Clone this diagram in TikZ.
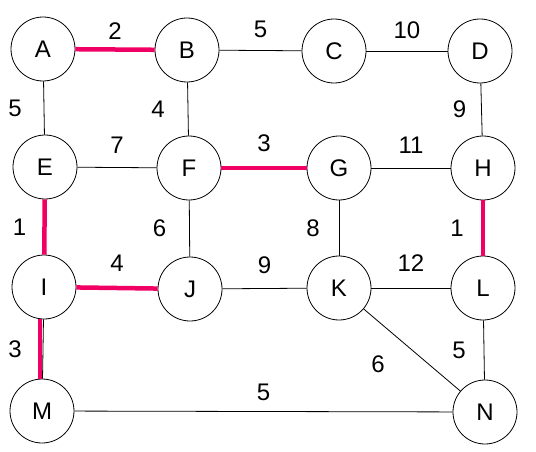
\documentclass[tikz,border=0pt]{standalone}
\usepackage{fontspec}
\setmainfont{Liberation Sans}
\usepackage{xcolor}
\usetikzlibrary{positioning}
\definecolor{pathred}{RGB}{240,0,100}

\begin{document}
\begin{tikzpicture}[
  x=1pt, y=-1pt,
  vertex/.style={circle, draw, line width=0.8pt, minimum size=64pt,
    inner sep=0pt, font=\fontsize{24}{28}\selectfont},
  wt/.style={font=\fontsize{24}{28}\selectfont, inner sep=0pt},
  edge/.style={line width=0.8pt},
  chosen/.style={line width=4.5pt, pathred}
]
  \useasboundingbox (0,0) rectangle (536,452);

  % --- Vertices ---
  \node[vertex] (A) at (43,49)   {A};
  \node[vertex] (B) at (187,50)  {B};
  \node[vertex] (C) at (334,51)  {C};
  \node[vertex] (D) at (480,51)  {D};
  \node[vertex] (E) at (45,167)  {E};
  \node[vertex] (F) at (189,168) {F};
  \node[vertex] (G) at (339,168) {G};
  \node[vertex] (H) at (483,168) {H};
  \node[vertex] (I) at (44,287)  {I};
  \node[vertex] (J) at (190,289) {J};
  \node[vertex] (K) at (339,288) {K};
  \node[vertex] (L) at (483,288) {L};
  \node[vertex] (M) at (42,411)  {M};
  \node[vertex] (N) at (485,412) {N};

  % --- Plain edges ---
  \draw[edge] (B) -- node[wt, above=12pt] {5}  (C);
  \draw[edge] (C) -- node[wt, above=12pt] {10} (D);
  \draw[edge] (A) -- node[wt, left=22pt]  {5}  (E);
  \draw[edge] (B) -- node[wt, left=23pt]  {4}  (F);
  \draw[edge] (D) -- node[wt, left=15pt]  {9}  (H);
  \draw[edge] (E) -- node[wt, above=14pt] {7}  (F);
  \draw[edge] (G) -- node[wt, above=14pt] {11} (H);
  \draw[edge] (F) -- node[wt, left=23pt]  {6}  (J);
  \draw[edge] (G) -- node[wt, left=19pt]  {8}  (K);
  \draw[edge] (J) -- node[wt, above=14pt] {9}  (K);
  \draw[edge] (K) -- node[wt, above=16pt] {12} (L);
  \draw[edge] (K) -- node[wt, xshift=-34pt, yshift=-14pt] {6} (N);
  \draw[edge] (L) -- node[wt, left=18pt]  {5}  (N);
  \draw[edge] (M) -- node[wt, above=10pt] {5}  (N);
  \draw[edge] (I) -- (M);

  % --- Highlighted edges ---
  \draw[chosen] (A) -- node[wt, above=8pt, black]  {2} (B);
  \draw[chosen] (F) -- node[wt, above=14pt, black] {3} (G);
  \draw[chosen] (H) -- node[wt, left=17pt, black]  {1} (L);
  \draw[chosen] (E) -- node[wt, left=16pt, black]  {1} (I);
  \draw[chosen] (I) -- node[wt, above=14pt, black] {4} (J);
  \draw[chosen] ([xshift=-4pt]I.south) -- node[wt, left=16pt, black] {3}
    ([xshift=-2pt]M.north);
\end{tikzpicture}
\end{document}
